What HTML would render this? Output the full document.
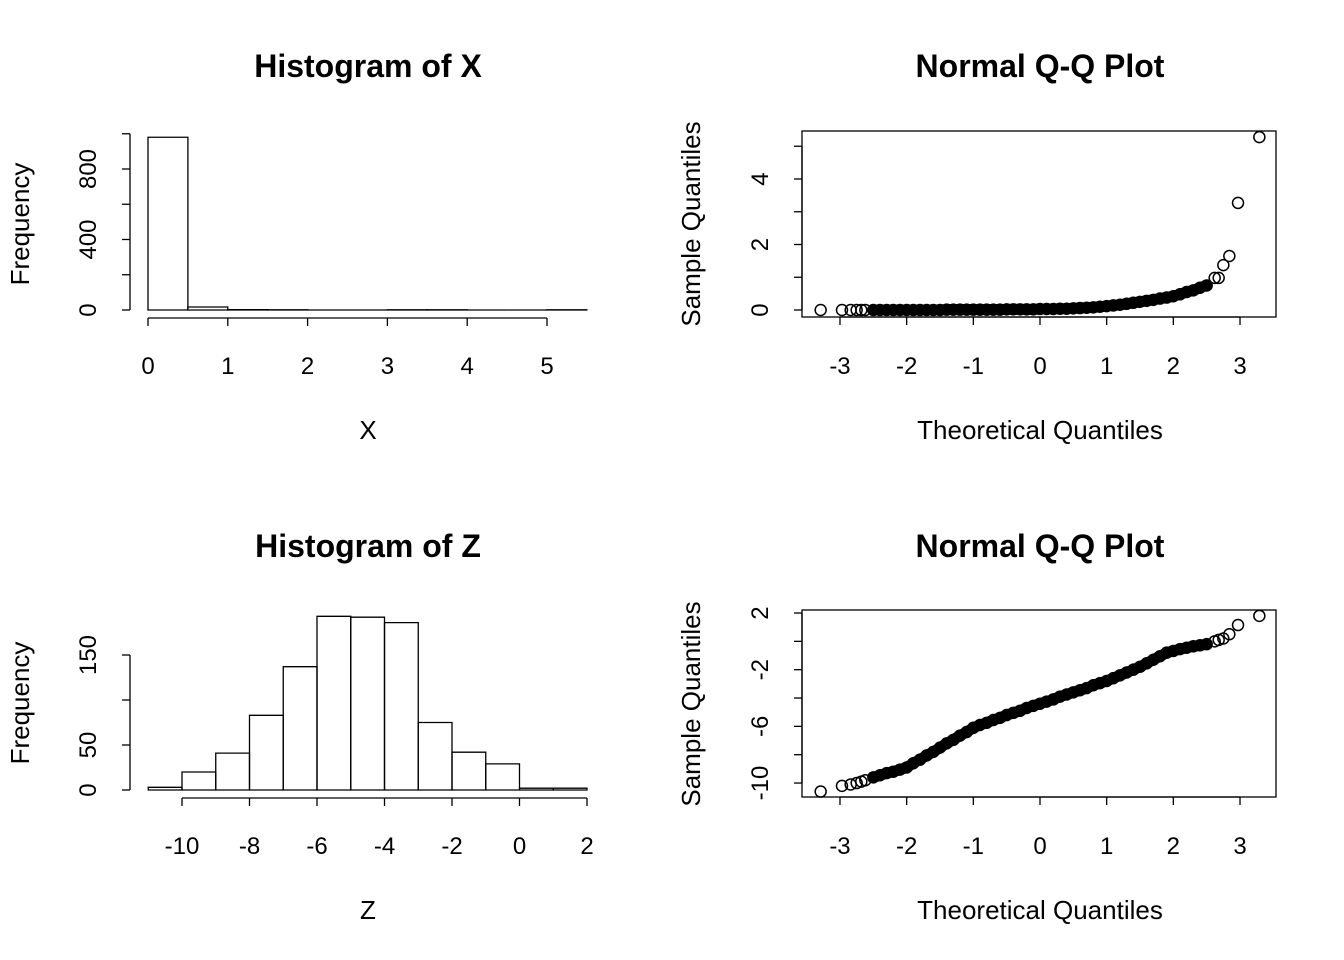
<!DOCTYPE html>
<html><head><meta charset="utf-8"><style>
html,body{margin:0;padding:0;background:#fff;}
svg{display:block;font-family:"Liberation Sans",Arial,sans-serif;}
.t{font-size:32px;font-weight:bold;text-anchor:middle;}
.l{font-size:24px;text-anchor:middle;}
.a{font-size:26px;text-anchor:middle;}
</style></head><body>
<svg id="s" width="1344" height="960" xmlns="http://www.w3.org/2000/svg">
<rect width="1344" height="960" fill="#fff"/>
</svg>
<script>
// Histogram of X
const histXBreaks = [0,0.5,1,1.5,2,2.5,3,3.5,4,4.5,5,5.5];
const histXCounts = [980,17,2,1,0,0,1,1,0,0,1];
const histXYTicks = [0,200,400,600,800,1000];
const histXYLabels = ["0","","400","","800",""];
const histXXTicks = [0,1,2,3,4,5];
// Histogram of Z
const histZBreaks = [-11,-10,-9,-8,-7,-6,-5,-4,-3,-2,-1,0,1,2];
const histZCounts = [3,20,41,83,137,193,192,186,75,42,29,2,2];
const histZYTicks = [0,50,100,150];
const histZYLabels = ["0","50","","150"];
const histZXTicks = [-10,-8,-6,-4,-2,0,2];
// QQ plots
const qqTheo = [-3.29,-2.97,-2.84,-2.75,-2.68,-2.62,-2.5,-2.4,-2.3,-2.2,-2.1,-2.0,-1.9,-1.8,-1.7,-1.6,-1.5,-1.4,-1.3,-1.2,-1.1,-1.0,-0.9,-0.8,-0.7,-0.6,-0.5,-0.4,-0.3,-0.2,-0.1,0,0.1,0.2,0.3,0.4,0.5,0.6,0.7,0.8,0.9,1.0,1.1,1.2,1.3,1.4,1.5,1.6,1.7,1.8,1.9,2.0,2.1,2.2,2.3,2.4,2.5,2.62,2.68,2.75,2.84,2.97,3.29];
const qqXSample = [0,0,0,0,0,0,0,0,0,0,0,0,0,0,0,0,0,0.01,0.01,0.01,0.01,0.01,0.01,0.01,0.01,0.01,0.02,0.02,0.02,0.02,0.02,0.03,0.03,0.03,0.04,0.04,0.05,0.06,0.07,0.08,0.1,0.12,0.14,0.16,0.19,0.22,0.25,0.28,0.31,0.35,0.38,0.42,0.48,0.55,0.6,0.68,0.75,0.98,0.98,1.37,1.65,3.27,5.28];
const qqZSample = [-10.6,-10.2,-10.1,-10.0,-9.9,-9.8,-9.6,-9.45,-9.3,-9.2,-9.05,-8.9,-8.6,-8.35,-8.05,-7.8,-7.5,-7.2,-6.95,-6.65,-6.4,-6.1,-5.9,-5.75,-5.55,-5.4,-5.2,-5.05,-4.9,-4.7,-4.55,-4.4,-4.25,-4.1,-3.9,-3.75,-3.6,-3.45,-3.3,-3.1,-2.95,-2.8,-2.6,-2.4,-2.2,-2.0,-1.8,-1.55,-1.3,-1.05,-0.8,-0.68,-0.55,-0.45,-0.35,-0.28,-0.2,0.0,0.1,0.2,0.5,1.15,1.8];
const qqXYTicks=[0,1,2,3,4,5]; const qqXYLabels=["0","","2","","4",""];
const qqZYTicks=[-10,-8,-6,-4,-2,0,2]; const qqZYLabels=["-10","","-6","","-2","","2"];
const qqXTicks=[-3,-2,-1,0,1,2,3];

const svg=document.getElementById('s');
const NS='http://www.w3.org/2000/svg';
function mk(tag,attrs,parent){const e=document.createElementNS(NS,tag);for(const k in attrs)e.setAttribute(k,attrs[k]);(parent||svg).appendChild(e);return e;}
function txt(x,y,s,cls,rot,parent){const e=mk('text',{x:x,y:y,class:cls},parent);if(rot)e.setAttribute('transform','rotate(-90 '+x+' '+y+')');e.textContent=s;return e;}
const ln={stroke:'#000','stroke-width':1.3,fill:'none'};
function line(x1,y1,x2,y2,p){return mk('line',Object.assign({x1:x1,y1:y1,x2:x2,y2:y2},ln),p);}

function yAxis(g,ax,sy,ticks,labels,lx){
  const a=line(ax,sy(ticks[0]),ax,sy(ticks[ticks.length-1]),g);
  
  ticks.forEach((t,i)=>{line(ax-8,sy(t),ax,sy(t),g);
    if(labels[i]){const e=txt(lx,sy(t),labels[i],'l',true,g);
      }});
}
function xAxis(g,ay,sx,ticks,ly){
  const a=line(sx(ticks[0]),ay,sx(ticks[ticks.length-1]),ay,g);
  
  ticks.forEach(t=>{line(sx(t),ay,sx(t),ay+8,g);
    const e=txt(sx(t),ly,String(t),'l',false,g);
    });
}
function hist(name,title,xlab,breaks,counts,sx,sy,yt,yl,xt,o){
  const g=mk('g',{});
  
  const tt=txt(368,o+77,title,'t',false,g);
  counts.forEach((c,i)=>{const x0=sx(breaks[i]),x1=sx(breaks[i+1]),y0=sy(0),y1=sy(c);
    const r=mk('path',Object.assign({d:'M'+x0+' '+y0+'L'+x0+' '+y1+'L'+x1+' '+y1+'L'+x1+' '+y0+'Z'},ln),g);
    });
  yAxis(g,130,sy,yt,yl,96);
  xAxis(g,sy(0)+8,sx,xt,o+374);
  const xl=txt(368,o+439,xlab,'a',false,g);
  const yy=o?703:224;
  const yl2=txt(29,yy,'Frequency','a',true,g);
  
}
hist('histogram-x','Histogram of X','X',histXBreaks,histXCounts,v=>148+v*79.8,v=>310-v*0.17625,histXYTicks,histXYLabels,histXXTicks,0);
hist('histogram-z','Histogram of Z','Z',histZBreaks,histZCounts,v=>519.5+v*33.75,v=>790-v*0.9,histZYTicks,histZYLabels,histZXTicks,480);

function qq(name,samp,sy,yt,yl,top,bot,o){
  const g=mk('g',{});
  
  const sx=v=>1040+v*66.67;
  const tt=txt(1040,o+77,'Normal Q-Q Plot','t',false,g);
  const b=mk('rect',Object.assign({x:802,y:top,width:474,height:bot-top},ln),g);
  
  let d='';
  qqTheo.forEach((q,i)=>{if(q>=-2.5&&q<=2.5){d+=(d?'L':'M')+sx(q)+' '+sy(samp[i]);}});
  const band=mk('path',{d:d,stroke:'#000','stroke-width':11,fill:'none','stroke-linejoin':'round','stroke-linecap':'round'},g);
  
  qqTheo.forEach((q,i)=>{const c=mk('circle',{cx:sx(q),cy:sy(samp[i]),r:5.5,fill:'none',stroke:'#000','stroke-width':1.5},g);
    });
  yAxis(g,802,sy,yt,yl,768);
  xAxis(g,bot,sx,qqXTicks,o+374);
  const xl=txt(1040,o+439,'Theoretical Quantiles','a',false,g);
  const yy=o+224;
  const yl2=txt(700,yy,'Sample Quantiles','a',true,g);
}
qq('qq-plot-x',qqXSample,v=>310-v*32.75,qqXYTicks,qqXYLabels,131,317,0);
qq('qq-plot-z',qqZSample,v=>613+(2-v)*14.17,qqZYTicks,qqZYLabels,610,797,480);
</script>
</body></html>
